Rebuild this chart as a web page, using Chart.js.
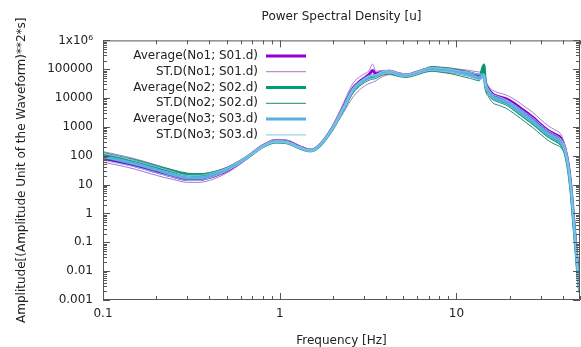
<!DOCTYPE html>
<html><head><meta charset="utf-8">
<script src="https://cdn.jsdelivr.net/npm/chart.js@4"></script>
<style>html,body{margin:0;padding:0;background:#fff}canvas{display:block}</style>
</head><body><canvas id="c" width="581" height="347"></canvas>
<script>
const freq = [0.1,0.12,0.15,0.2,0.25,0.3,0.35,0.4,0.5,0.6,0.7,0.8,0.95,1.1,1.3,1.5,1.7,2.0,2.3,2.6,2.9,3.2,3.35,3.5,3.8,4.2,4.7,5.2,5.8,6.5,7.3,8.2,9.3,10.5,12,13.5,14.3,14.6,15.2,16,17.5,19,21,23,25,27,30,33,36,39,41,43,44.5,46,47.5,49,50];

const avgNo1 = [80,63,46,28,19,15,15,18,30,60,120,220,340,320,205,155,250,1000,5200,22000,42000,65000,90000,70000,82000,86000,70000,63000,74000,95000,105000,100000,92000,85000,72000,60000,70000,33000,20000,14000,11000,9500,6800,4500,3100,2200,1200,760,560,400,190,45,7.5,0.7,0.06,0.006,0.002];
const stdNo1Hi = [140,110,80,48,32,24,23,26,40,72,135,235,370,345,220,170,270,1150,7000,33000,60000,90000,150000,85000,90000,92000,76000,68000,80000,100000,120000,115000,105000,100000,90000,80000,85000,45000,26000,19000,15000,13000,9500,6500,4500,3200,1800,1100,800,550,240,55,9,0.8,0.07,0.007,0.0025];
const stdNo1Lo = [60,48,35,21,15,12,12,14,25,52,105,195,300,280,180,140,225,850,3200,11000,22000,32000,35000,40000,55000,65000,58000,55000,62000,80000,88000,82000,75000,66000,55000,45000,50000,22000,13000,9000,7000,5800,4000,2700,1800,1300,750,480,350,260,140,33,5.8,0.5,0.045,0.004,0.0016];

const avgNo2 = [105,85,63,40,28,22,21,23,35,64,118,205,300,285,185,148,240,900,4300,18000,35000,52000,55000,58000,74000,80000,64000,59000,68000,88000,100000,95000,88000,74000,62000,50000,140000,26000,15000,10000,7800,6500,4300,2800,1900,1350,780,480,350,250,140,33,6,0.5,0.05,0.0045,0.0018];
const stdNo2Hi = [130,100,75,46,32,25,24,26,38,68,125,215,320,300,195,155,250,950,4800,20000,38000,56000,60000,62000,80000,85000,68000,62000,72000,100000,125000,118000,110000,95000,80000,68000,120000,35000,20000,13000,10000,8200,5500,3600,2500,1800,1000,620,450,320,170,40,7,0.6,0.055,0.005,0.0019];
const stdNo2Lo = [85,68,50,32,23,18,17,20,31,58,112,195,285,270,178,142,230,850,3800,15000,29000,42000,45000,48000,62000,68000,56000,52000,60000,75000,85000,78000,70000,58000,48000,40000,90000,20000,11000,7000,5500,4500,3000,2000,1350,950,550,340,250,190,110,28,5,0.45,0.04,0.004,0.0016];

const avgNo3 = [93,74,54,33,22,17,17,20,33,63,120,210,310,290,190,150,245,950,4700,20000,38000,56000,60000,61000,78000,84000,66000,61000,71000,91000,107000,98000,91000,78000,66000,52000,61000,29000,17000,11500,9000,7600,5100,3400,2300,1650,950,590,430,310,165,39,6.8,0.6,0.055,0.005,0.0019];
const stdNo3Hi = [120,95,68,42,28,21,21,24,37,68,128,225,330,310,200,158,255,1000,5000,21000,40000,58000,62000,64000,82000,88000,72000,66000,76000,97000,115000,108000,100000,88000,78000,66000,70000,34000,20000,14000,11000,9000,6200,4200,2900,2100,1200,750,540,380,200,48,8,0.7,0.06,0.006,0.0022];
const stdNo3Lo = [70,56,42,26,18,14,14,17,29,57,112,200,295,275,182,143,232,880,4000,17000,32000,45000,48000,52000,68000,76000,60000,56000,64000,82000,92000,86000,80000,68000,56000,44000,52000,23000,14000,9500,7500,6200,4200,2800,1900,1350,780,480,350,250,140,34,6,0.5,0.05,0.0045,0.0017];

const seriesLabels = ['Average(No1; S01.d)','ST.D(No1; S01.d)','Average(No2; S02.d)','ST.D(No2; S02.d)','Average(No3; S03.d)','ST.D(No3; S03.d)'];
const xTickValues = [0.1,1,10];
const xTickLabels = ['0.1','1','10'];
const yTickValues = [0.001,0.01,0.1,1,10,100,1000,10000,100000,1000000];
const yTickLabels = ['0.001','0.01','0.1','1','10','100','1000','10000','100000','1x10\u2076'];
const chartTitle = 'Power Spectral Density [u]';
const xTitle = 'Frequency [Hz]';
const yTitle = 'Amplitude[(Amplitude Unit of the Waveform)**2*s]';

const FONT = "'DejaVu Sans', sans-serif";
Chart.defaults.font.family = FONT;
Chart.defaults.font.size = 12;
Chart.defaults.color = '#222';

function pts(arr){ return freq.map((f,i)=>({x:f,y:arr[i]})); }
function ds(label, arr, color, width, order, legend){
  return {label, data:pts(arr), borderColor:color, backgroundColor:color, borderWidth:width,
    pointRadius:0, fill:false, cubicInterpolationMode:'monotone', order, inLegend:legend};
}
const datasets = [
  ds(seriesLabels[0], avgNo1, '#9400d3', 3, 8, true),
  ds(seriesLabels[1], stdNo1Hi, '#a47cc8', 1, 7, true),
  ds(seriesLabels[1], stdNo1Lo, '#a47cc8', 1, 7, false),
  ds(seriesLabels[2], avgNo2, '#009e73', 3, 5, true),
  ds(seriesLabels[3], stdNo2Hi, '#1f8a6c', 1, 4, true),
  ds(seriesLabels[3], stdNo2Lo, '#1f8a6c', 1, 4, false),
  ds(seriesLabels[4], avgNo3, '#5ab0e2', 3, 2, true),
  ds(seriesLabels[5], stdNo3Hi, '#86c4e4', 1, 1, true),
  ds(seriesLabels[5], stdNo3Lo, '#86c4e4', 1, 1, false)
];

const frame = {
  id:'frame',
  afterDraw(chart){
    const {ctx, chartArea:a, scales:{x,y}} = chart;
    ctx.save();
    ctx.strokeStyle = '#555'; ctx.lineWidth = 1;
    ctx.beginPath();
    ctx.rect(a.left+0.5, a.top+0.5, a.right-a.left-1, a.bottom-a.top-1);
    ctx.stroke();
    ctx.beginPath();
    for (let d=0.1; d<100; d*=10){
      for (let m=1; m<=9; m++){
        const v = d*m; if (v > x.max*1.0001) break;
        const px = Math.round(x.getPixelForValue(v))+0.5;
        const len = m===1 ? 7 : 4;
        ctx.moveTo(px, a.bottom); ctx.lineTo(px, a.bottom-len);
        ctx.moveTo(px, a.top); ctx.lineTo(px, a.top+len);
      }
    }
    for (let e=-3; e<=6; e++){
      const d = Math.pow(10,e);
      for (let m=1; m<=9; m++){
        if (e===6 && m>1) break;
        const py = Math.round(y.getPixelForValue(d*m))+0.5;
        const len = m===1 ? 7 : 4;
        ctx.moveTo(a.left, py); ctx.lineTo(a.left+len, py);
        ctx.moveTo(a.right, py); ctx.lineTo(a.right-len, py);
      }
    }
    ctx.stroke();
    // legend
    const items = chart.data.datasets.filter(d=>d.inLegend);
    ctx.font = '12px ' + FONT;
    ctx.textAlign = 'right'; ctx.textBaseline = 'middle';
    items.forEach((d,i)=>{
      const yy = a.top + 15.5 + i*15.8;
      ctx.fillStyle = '#222';
      ctx.fillText(d.label, a.left + 155, yy);
      ctx.strokeStyle = d.borderColor; ctx.lineWidth = d.borderWidth;
      ctx.beginPath(); ctx.moveTo(a.left+163, yy); ctx.lineTo(a.left+203, yy); ctx.stroke();
    });
    ctx.restore();
  }
};

new Chart(document.getElementById('c'), {
  type:'line',
  data:{datasets},
  options:{
    responsive:false, animation:false,
    layout:{padding:{left:0,right:1,top:0,bottom:0}},
    plugins:{
      legend:{display:false}, tooltip:{enabled:false},
      title:{display:true, fullSize:false, text:chartTitle, font:{size:12, weight:'normal'}, color:'#222', padding:{top:10,bottom:16}}
    },
    scales:{
      x:{type:'logarithmic', min:0.1, max:50,
        afterBuildTicks(s){ s.ticks = xTickValues.map(v=>({value:v})); },
        afterFit(s){ s.height = 47; },
        ticks:{autoSkip:false, maxRotation:0, padding:7, callback:(v)=>{const i=xTickValues.indexOf(v); return i>=0?xTickLabels[i]:'';}},
        grid:{display:true, drawOnChartArea:false, drawTicks:false, color:'rgba(0,0,0,0)'},
        border:{display:false},
        title:{display:true, text:xTitle, font:{size:12}, color:'#222', padding:{top:4,bottom:-1}}
      },
      y:{type:'logarithmic', min:0.001, max:1000000,
        afterBuildTicks(s){ s.ticks = yTickValues.map(v=>({value:v})); },
        afterFit(s){ s.width = 103; },
        ticks:{autoSkip:false, padding:10, callback:(v)=>{const i=yTickValues.indexOf(v); return i>=0?yTickLabels[i]:'';}},
        grid:{display:true, drawOnChartArea:false, drawTicks:false, color:'rgba(0,0,0,0)'},
        border:{display:false},
        title:{display:true, text:yTitle, font:{size:12}, color:'#222', padding:{top:15,bottom:4}}
      }
    }
  },
  plugins:[frame]
});
</script></body></html>
